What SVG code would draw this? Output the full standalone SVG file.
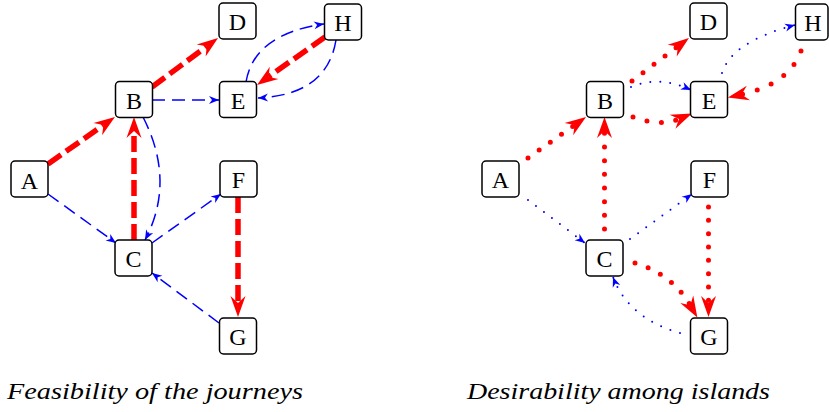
<svg xmlns="http://www.w3.org/2000/svg" width="829" height="412" viewBox="0 0 829 412">
<style>
.box{fill:#fff;stroke:#000;stroke-width:1.5}
.lbl{font-family:"Liberation Serif","Times New Roman",serif;font-size:24px;text-anchor:middle;fill:#000}
.cap{font-family:"Liberation Serif","Times New Roman",serif;font-size:24px;font-style:italic;fill:#000}
.rd{fill:none;stroke:#ff0000;stroke-width:5.5;stroke-dasharray:16 6;marker-end:url(#ra)}
.bd{fill:none;stroke:#0000ff;stroke-width:1.5;stroke-dasharray:13 7;marker-end:url(#ba)}
.rdot{fill:none;stroke:#ff0000;stroke-width:5;stroke-linecap:round;marker-end:url(#ra)}
.bdot{fill:none;stroke:#0000ff;stroke-width:2;stroke-linecap:round;stroke-dasharray:0 10;marker-end:url(#ba)}
</style>
<defs>
<marker id="ra" markerUnits="userSpaceOnUse" markerWidth="22" markerHeight="16" refX="7" refY="7.5" orient="auto" overflow="visible">
<path d="M0,0 L21,7.5 L0,15 L7,7.5 Z" fill="#ff0000"/>
</marker>
<marker id="ba" markerUnits="userSpaceOnUse" markerWidth="11" markerHeight="9" refX="10" refY="4" orient="auto" overflow="visible">
<path d="M0,0 L10,4 L0,8 L3,4 Z" fill="#0000ff"/>
</marker>
</defs>
<g id="connectors">
<path class="rd" d="M48,164 L103.5,125"/>
<path class="rd" d="M152,87 L206.8,46.3"/>
<path class="rd" d="M325,37 L268.4,76.9"/>
<path class="rd" d="M134,240 L134,131"/>
<path class="rd" d="M238,197 L238,303"/>
<path class="bd" d="M152,100 L219,100"/>
<path class="bd" d="M246,82 Q254,34 324,24"/>
<path class="bd" d="M336,40 Q327,95 258,98"/>
<path class="bd" d="M143,117 Q176,181.5 145,240"/>
<path class="bd" d="M48,194 L116,243"/>
<path class="bd" d="M152,243 L221,194"/>
<path class="bd" d="M219,323 L152,273"/>
<path class="rdot" stroke-dasharray="0 13.67" d="M528,158 L574.6,125.1"/>
<path class="rdot" stroke-dasharray="0 13.8" d="M632,81 L677.8,46.4"/>
<path class="rdot" stroke-dasharray="0 15.2" d="M801,51 Q789,84 741.6,94.5"/>
<path class="rdot" stroke-dasharray="0 14.5" d="M633,117 Q660,127 679,119"/>
<path class="rdot" stroke-dasharray="0 13.67" d="M604.5,229 L604.5,131"/>
<path class="rdot" stroke-dasharray="0 13.33" d="M708.5,207 L708.5,303"/>
<path class="rdot" stroke-dasharray="0 13.85" d="M635,263 Q672,274 690.3,305.3"/>
<path class="bdot" d="M528,200 L585,243"/>
<path class="bdot" d="M630,239 L692,194"/>
<path class="bdot" d="M680,333 Q628.5,318.5 613,277"/>
<path class="bdot" d="M631,87 Q659,75 691,90"/>
<path class="bdot" d="M722,73 Q732,41.5 795,25"/>
</g>
<g id="L-A"><rect class="box" x="11" y="161" width="37" height="36" rx="4"/><text class="lbl" x="29.5" y="188.5">A</text></g>
<g id="L-B"><rect class="box" x="115.5" y="81.5" width="37" height="36" rx="4"/><text class="lbl" x="134" y="108.5">B</text></g>
<g id="L-C"><rect class="box" x="115" y="240" width="37" height="36" rx="4"/><text class="lbl" x="133.5" y="267">C</text></g>
<g id="L-D"><rect class="box" x="219" y="3" width="37" height="36" rx="4"/><text class="lbl" x="237.5" y="30">D</text></g>
<g id="L-E"><rect class="box" x="219.5" y="81.5" width="37" height="36" rx="4"/><text class="lbl" x="238" y="108.5">E</text></g>
<g id="L-F"><rect class="box" x="220" y="161" width="37" height="36" rx="4"/><text class="lbl" x="238.5" y="188">F</text></g>
<g id="L-G"><rect class="box" x="219.5" y="318" width="37" height="36" rx="4"/><text class="lbl" x="238" y="345">G</text></g>
<g id="L-H"><rect class="box" x="324.5" y="4" width="37" height="36" rx="4"/><text class="lbl" x="343" y="31">H</text></g>
<g id="R-A"><rect class="box" x="482" y="161" width="37" height="36" rx="4"/><text class="lbl" x="500.5" y="188">A</text></g>
<g id="R-B"><rect class="box" x="586.5" y="81.5" width="37" height="36" rx="4"/><text class="lbl" x="605" y="108.5">B</text></g>
<g id="R-C"><rect class="box" x="586" y="240" width="37" height="36" rx="4"/><text class="lbl" x="604.5" y="267">C</text></g>
<g id="R-D"><rect class="box" x="690" y="3" width="37" height="36" rx="4"/><text class="lbl" x="708.5" y="30">D</text></g>
<g id="R-E"><rect class="box" x="690.5" y="81.5" width="37" height="36" rx="4"/><text class="lbl" x="709" y="108.5">E</text></g>
<g id="R-F"><rect class="box" x="691" y="161" width="37" height="36" rx="4"/><text class="lbl" x="709.5" y="188">F</text></g>
<g id="R-G"><rect class="box" x="690.5" y="318" width="37" height="36" rx="4"/><text class="lbl" x="709" y="345">G</text></g>
<g id="R-H"><rect class="box" x="795.5" y="4" width="32.5" height="36" rx="4"/><text class="lbl" x="813" y="31">H</text></g>
<text class="cap" x="7" y="399" textLength="296" lengthAdjust="spacingAndGlyphs">Feasibility of the journeys</text>
<text class="cap" x="467" y="399" textLength="303" lengthAdjust="spacingAndGlyphs">Desirability among islands</text>
</svg>
